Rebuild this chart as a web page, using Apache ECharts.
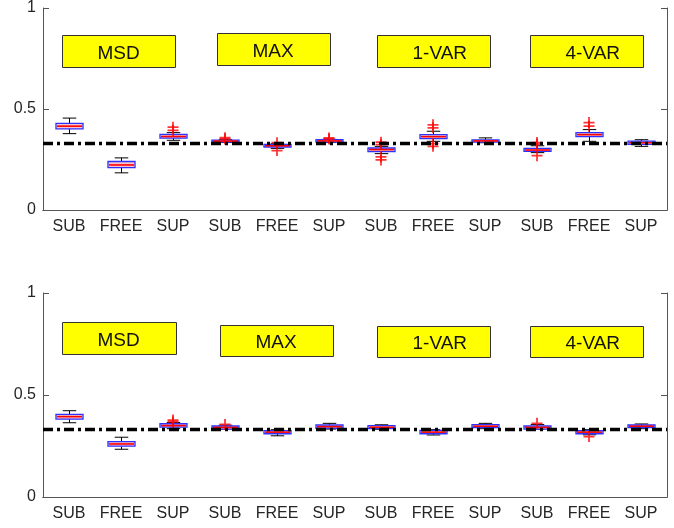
<!DOCTYPE html>
<html><head><meta charset="utf-8">
<script src="https://cdn.jsdelivr.net/npm/echarts@6/dist/echarts.min.js"></script>
<style>html,body{margin:0;padding:0;background:#fff}#c{width:674px;height:528px}</style>
</head><body><div id="c"></div>
<script>
// ---- data ----
const categories = ['SUB','FREE','SUP','SUB','FREE','SUP','SUB','FREE','SUP','SUB','FREE','SUP'];
const methods = ['MSD','MAX','1-VAR','4-VAR'];
const refLevel = 1/3;
// [min, q1, median, q3, max] per category
const topStats = [
  [0.378,0.402,0.415,0.429,0.455],
  [0.184,0.210,0.223,0.240,0.258],
  [0.345,0.356,0.364,0.374,0.383],
  [0.334,0.336,0.341,0.346,0.348],
  [0.305,0.312,0.318,0.325,0.328],
  [0.334,0.336,0.342,0.348,0.350],
  [0.279,0.289,0.299,0.307,0.315],
  [0.340,0.353,0.363,0.373,0.390],
  [0.333,0.336,0.342,0.347,0.357],
  [0.284,0.290,0.297,0.305,0.318],
  [0.340,0.363,0.373,0.383,0.398],
  [0.315,0.325,0.333,0.341,0.348]
];
const topOutliers = [
  [2,0.410],[2,0.394],
  [3,0.358],[3,0.352],
  [4,0.333],[4,0.294],
  [5,0.357],[5,0.352],
  [6,0.336],[6,0.324],[6,0.263],[6,0.248],
  [7,0.422],[7,0.407],[7,0.329],[7,0.315],
  [9,0.334],[9,0.326],[9,0.269],
  [10,0.433],[10,0.415]
];
const bottomStats = [
  [0.364,0.382,0.394,0.405,0.423],
  [0.234,0.249,0.260,0.271,0.293],
  [0.335,0.343,0.350,0.359,0.365],
  [0.333,0.333,0.341,0.348,0.352],
  [0.300,0.310,0.318,0.325,0.330],
  [0.333,0.337,0.345,0.353,0.361],
  [0.332,0.335,0.342,0.350,0.354],
  [0.304,0.310,0.318,0.327,0.330],
  [0.335,0.340,0.347,0.355,0.361],
  [0.333,0.333,0.341,0.348,0.355],
  [0.305,0.310,0.318,0.325,0.330],
  [0.335,0.340,0.347,0.353,0.358]
];
const bottomOutliers = [
  [2,0.377],[2,0.368],
  [3,0.356],
  [9,0.361],
  [10,0.296]
];

// ---- chart ----
const chart = echarts.init(document.getElementById('c'));
const FONT = 'Liberation Sans, Arial, Helvetica, sans-serif';
const AX = '#555';
const TXT = '#262626';

function boxRender(params, api) {
  const i = api.value(0);
  const pMin = api.coord([i, api.value(1)]);
  const pQ1 = api.coord([i, api.value(2)]);
  const pMd = api.coord([i, api.value(3)]);
  const pQ3 = api.coord([i, api.value(4)]);
  const pMax = api.coord([i, api.value(5)]);
  const bw = api.size([1, 0])[0] * 0.52;
  const cw = bw * 0.5;
  const x = Math.round(pMin[0]) + 0.5;
  const ln = (x1,y1,x2,y2,c,w) => ({type:'line', shape:{x1,y1,x2,y2}, style:{stroke:c, lineWidth:w}});
  return {type:'group', children:[
    ln(x, pMax[1], x, pQ3[1], '#000', 1),
    ln(x, pMin[1], x, pQ1[1], '#000', 1),
    ln(x-cw/2, pMax[1], x+cw/2, pMax[1], '#000', 1),
    ln(x-cw/2, pMin[1], x+cw/2, pMin[1], '#000', 1),
    {type:'rect', shape:{x:x-bw/2, y:pQ3[1], width:bw, height:Math.max(pQ1[1]-pQ3[1],2)},
     style:{fill:'#f6c4cc', stroke:'#3030ff', lineWidth:1.3}},
    ln(x-bw/2+1, pMd[1], x+bw/2-1, pMd[1], '#ff0000', 1.6)
  ]};
}

const plusPath = 'path://M4.2,0h1.6v4.2h4.2v1.6h-4.2v4.2h-1.6v-4.2h-4.2v-1.6h4.2z';

function axesFor(g) {
  const xs = [
    {gridIndex:g, type:'category', data:categories, position:'bottom',
     axisLine:{lineStyle:{color:AX, width:1}},
     axisTick:{inside:true, alignWithLabel:true, interval:0, length:5, lineStyle:{color:AX}},
     axisLabel:{color:TXT, fontSize:16, fontFamily:FONT, margin:9, interval:0},
     splitLine:{show:false}},
    {gridIndex:g, type:'category', data:categories, position:'top',
     axisLine:{lineStyle:{color:AX, width:1}},
     axisTick:{inside:true, alignWithLabel:true, interval:0, length:5, lineStyle:{color:AX}},
     axisLabel:{show:false, interval:0}, splitLine:{show:false}}
  ];
  const ys = [
    {gridIndex:g, type:'value', min:0, max:1, interval:0.5, position:'left',
     axisLine:{show:true, lineStyle:{color:AX, width:1}},
     axisTick:{show:true, inside:true, length:6, lineStyle:{color:AX}},
     axisLabel:{color:TXT, fontSize:16, fontFamily:FONT, margin:7},
     splitLine:{show:false}},
    {gridIndex:g, type:'value', min:0, max:1, interval:0.5, position:'right',
     axisLine:{show:true, lineStyle:{color:AX, width:1}},
     axisTick:{show:true, inside:true, length:6, lineStyle:{color:AX}},
     axisLabel:{show:false}, splitLine:{show:false}}
  ];
  return {xs, ys};
}
const a0 = axesFor(0), a1 = axesFor(1);

function seriesFor(g, stats, outliers) {
  const xi = g*2, yi = g*2;
  return [
    {type:'scatter', xAxisIndex:xi, yAxisIndex:yi, data:[], z:1, silent:true,
     markLine:{silent:true, symbol:'none', label:{show:false},
       lineStyle:{color:'#000', width:3.4, type:[10,4,3,4]},
       data:[{yAxis:refLevel}]}},
    {type:'custom', xAxisIndex:xi, yAxisIndex:yi, z:3,
     data:stats.map((s,i)=>[i].concat(s)),
     encode:{x:0, y:[1,2,3,4,5]},
     renderItem:boxRender},
    {type:'scatter', xAxisIndex:xi, yAxisIndex:yi, z:4,
     symbol:plusPath, symbolSize:11,
     itemStyle:{color:'#ff0000'},
     data:outliers}
  ];
}

function labelBox(x, y, w, h, text) {
  return {type:'group', x:x, y:y, children:[
    {type:'rect', shape:{x:0, y:0, width:w, height:h},
     style:{fill:'#ffff00', stroke:'#333', lineWidth:1}},
    {type:'text', x:35, y:h/2+2, style:{text:text, fill:'#111', font:'19px '+FONT,
      textVerticalAlign:'middle', textAlign:'left'}}
  ]};
}

chart.setOption({
  animation:false,
  backgroundColor:'#fff',
  grid:[
    {left:43, width:624, top:7, height:203},
    {left:43, width:624, top:293, height:204}
  ],
  xAxis:[...a0.xs, ...a1.xs],
  yAxis:[...a0.ys, ...a1.ys],
  series:[...seriesFor(0, topStats, topOutliers), ...seriesFor(1, bottomStats, bottomOutliers)],
  graphic:[
    labelBox(62.5, 35.5, 113, 32, methods[0]),
    labelBox(217.5, 33.5, 113, 32, methods[1]),
    labelBox(377.5, 35.5, 113, 32, methods[2]),
    labelBox(530.5, 35.5, 113, 32, methods[3]),
    labelBox(62.5, 322.5, 114, 32, methods[0]),
    labelBox(220.5, 325.5, 113, 31, methods[1]),
    labelBox(377.5, 326.5, 113, 31, methods[2]),
    labelBox(530.5, 326.5, 113, 31, methods[3])
  ]
});
</script></body></html>
